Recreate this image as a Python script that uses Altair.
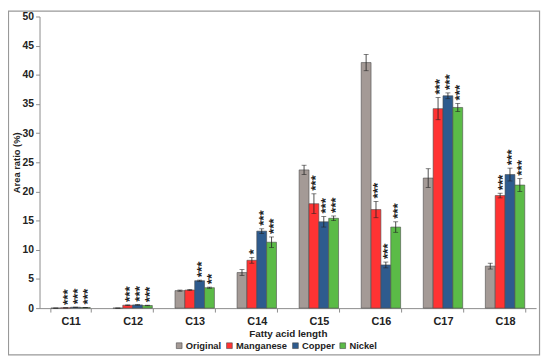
import altair as alt
import pandas as pd

categories = ["C11", "C12", "C13", "C14", "C15", "C16", "C17", "C18"]
series = ["Original", "Manganese", "Copper", "Nickel"]
colors = ["#A49A96", "#FF3333", "#2E5B8E", "#5BBB47"]

original = [0.0, 0.0, 3.0, 6.1, 23.7, 42.1, 22.3, 7.2]
original_err = [0.0, 0.0, 0.1, 0.5, 0.8, 1.4, 1.6, 0.5]
manganese = [0.05, 0.5, 3.1, 8.2, 17.9, 16.9, 34.2, 19.3]
manganese_err = [0.0, 0.05, 0.1, 0.5, 1.7, 1.4, 1.9, 0.4]
copper = [0.15, 0.55, 4.7, 13.2, 14.8, 7.4, 36.4, 22.9]
copper_err = [0.02, 0.05, 0.1, 0.4, 0.9, 0.5, 0.5, 1.1]
nickel = [0.1, 0.45, 3.5, 11.3, 15.4, 13.9, 34.4, 21.1]
nickel_err = [0.02, 0.05, 0.1, 0.9, 0.4, 0.9, 0.7, 1.1]

original_sig = ["", "", "", "", "", "", "", ""]
manganese_sig = ["***", "***", "", "*", "***", "***", "***", "***"]
copper_sig = ["***", "***", "***", "***", "***", "***", "***", "***"]
nickel_sig = ["***", "***", "**", "***", "***", "***", "***", "***"]

y_ticks = [0, 5, 10, 15, 20, 25, 30, 35, 40, 45, 50]

rows = []
for s, vals, errs, sigs in [
    ("Original", original, original_err, original_sig),
    ("Manganese", manganese, manganese_err, manganese_sig),
    ("Copper", copper, copper_err, copper_sig),
    ("Nickel", nickel, nickel_err, nickel_sig),
]:
    for c, v, e, g in zip(categories, vals, errs, sigs):
        rows.append({"Category": c, "Series": s, "Value": v,
                     "Lo": v - e, "Hi": v + e, "Sig": g})
df = pd.DataFrame(rows)

FONT = "Liberation Sans"
TXT = "#222222"

x_axis = alt.Axis(title="Fatty acid length", labelAngle=0, tickBand="extent",
                  domainColor="#8c8c8c", tickColor="#8c8c8c", tickSize=4,
                  labelFont=FONT, labelFontSize=11, labelFontWeight="bold",
                  labelColor=TXT, labelPadding=4,
                  titleFont=FONT, titleFontSize=10, titleFontWeight="bold",
                  titleColor=TXT, titlePadding=2)
y_axis = alt.Axis(title="Area ratio (%)", values=y_ticks, grid=False,
                  labelOverlap=False,
                  domainColor="#8c8c8c", tickColor="#8c8c8c", tickSize=4,
                  labelFont=FONT, labelFontSize=10.5, labelFontWeight="bold",
                  labelColor=TXT, labelPadding=2,
                  titleFont=FONT, titleFontSize=9.5, titleFontWeight="bold",
                  titleColor=TXT, titlePadding=1)

x_scale = alt.Scale(paddingInner=0.365, paddingOuter=0.1825)
y_scale = alt.Scale(domain=[0, 50], nice=False)

x_enc = alt.X("Category:N", sort=categories, scale=x_scale, axis=x_axis)
xoff = alt.XOffset("Series:N", sort=series, scale=alt.Scale(paddingInner=0, paddingOuter=0))


def y_enc(field):
    return alt.Y(field, type="quantitative", scale=y_scale, axis=y_axis)


bars = alt.Chart(df).mark_bar(stroke="#4a4a4a", strokeWidth=0.6).encode(
    x=x_enc,
    xOffset=xoff,
    y=y_enc("Value"),
    color=alt.Color("Series:N", sort=series,
                    scale=alt.Scale(domain=series, range=colors),
                    legend=alt.Legend(title=None, orient="none", direction="horizontal",
                                      legendX=137, legendY=329,
                                      symbolType="square", symbolSize=34,
                                      symbolStrokeColor="#4a4a4a", symbolStrokeWidth=0.6,
                                      labelFont=FONT, labelFontSize=9.5, labelFontWeight="bold",
                                      labelColor=TXT, labelOffset=2,
                                      columnPadding=3)),
)

err_rule = alt.Chart(df).mark_rule(color=TXT, strokeWidth=0.8).encode(
    x=x_enc,
    xOffset=xoff,
    y=y_enc("Lo"),
    y2="Hi:Q",
)

cap_hi = alt.Chart(df).mark_tick(color=TXT, thickness=0.8, size=5).encode(
    x=x_enc,
    xOffset=xoff,
    y=y_enc("Hi"),
)
cap_lo = alt.Chart(df).mark_tick(color=TXT, thickness=0.8, size=5).encode(
    x=x_enc,
    xOffset=xoff,
    y=y_enc("Lo"),
)

stars = alt.Chart(df).mark_text(angle=270, align="left", baseline="middle",
                                dx=3, dy=2.5, font=FONT, fontSize=13.5, fontWeight="bold",
                                color=TXT).encode(
    x=x_enc,
    xOffset=xoff,
    y=y_enc("Hi"),
    text="Sig:N",
)

border = alt.Chart(pd.DataFrame({"k": [0]})).mark_rect(
    fill=None, stroke="#999999", strokeWidth=1.2).encode(
    x=alt.value(-31.5), x2=alt.value(507.5), y=alt.value(-5.5), y2=alt.value(343.5))

chart = alt.layer(bars, err_rule, cap_hi, cap_lo, stars, border).properties(
    width=504, height=296,
    padding={"left": 32, "top": 6, "right": 6, "bottom": 48},
    autosize=alt.AutoSizeParams(type="none"),
    background="white",
).configure_view(stroke=None)

chart.save("out.html", embed_options={"renderer": "svg", "actions": False})
